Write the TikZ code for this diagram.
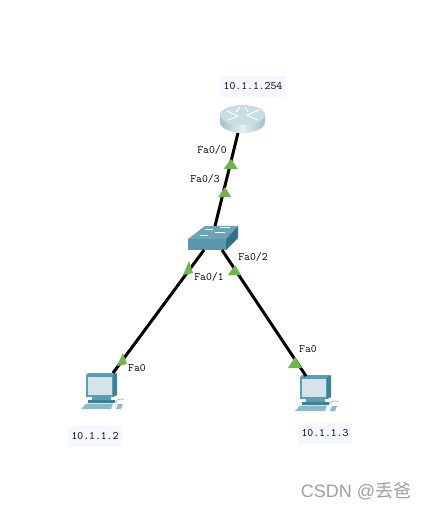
\documentclass[tikz,border=0pt]{standalone}
\usepackage{fontspec}
\newfontfamily\wmfont{Liberation Sans}
\newfontfamily\cjk{Noto Sans CJK SC}
\definecolor{linkgreen}{HTML}{6CB94A}
\definecolor{labelbg}{HTML}{F5F7FE}
\definecolor{pcdark}{HTML}{3E8197}
\definecolor{pcmid}{HTML}{5B9DB2}
\definecolor{pcscreen}{HTML}{D5E4EB}
\definecolor{pclight}{HTML}{8DB9CA}
\definecolor{swtop}{HTML}{6DA3B6}
\definecolor{swfront}{HTML}{5A97AE}
\definecolor{swside}{HTML}{2F7288}
\definecolor{rttop}{HTML}{C9DDE3}
\definecolor{rtside}{HTML}{9CC0CB}
\definecolor{rtmid}{HTML}{E6F0F3}
\tikzset{
	port/.style={font=\fontsize{11.4}{13}\ttfamily, inner sep=0pt},
	addr/.style={font=\fontsize{11.4}{13}\ttfamily, fill=labelbg, inner xsep=4pt, inner ysep=0pt, minimum height=21pt},
	link/.style={line width=3pt, black},
	pc/.pic={
		% Màn hình
		\fill[pcmid] (-16,-15) -- (11,-15) -- (11,7) -- (-16,7) -- cycle;
		\fill[pcdark] (11,-15) -- (15,-17) -- (15,5) -- (11,7) -- cycle;
		\fill[pcmid] (-16,-15) -- (-14,-17) -- (15,-17) -- (11,-15) -- cycle;
		\fill[pcscreen] (-14.5,-13.5) -- (10,-13.5) -- (10,5) -- (-14.5,5) -- cycle;
		% Chân đế
		\fill[pcmid] (-10,7) -- (9,7) -- (9,10) -- (-10,10) -- cycle;
		\fill[pcdark] (-14,10) -- (13,10) -- (13,13) -- (-14,13) -- cycle;
		% Bàn phím và chuột
		\fill[pclight] (-21,19) -- (-16,13.5) -- (11,13.5) -- (9,19) -- cycle;
		\fill[pclight] (14,19) -- (16,14) -- (21,14) -- (19,19) -- cycle;
		\draw[pclight, line width=0.7pt] (13,12) .. controls (15,9) and (20,8) .. (22,10);
	}
}
\begin{document}
\begin{tikzpicture}[x=1pt, y=-1pt]
	\useasboundingbox (0,0) rectangle (426,510);
	
	% Biểu tượng router
	\shade[left color=rtside, right color=rtside, middle color=rtmid] (220,115) -- (220,122) arc[start angle=180, end angle=0, x radius=22.5, y radius=11] -- (265,115) -- cycle;
	\fill[rttop] (242.5,115) ellipse[x radius=22.5, y radius=10];
	\draw[white, line width=1pt] (227,111) -- (238,116) (228,120) -- (238,116) (259,110) -- (247,115) (258,120) -- (247,115) (240,107) -- (236,112) (245,107) -- (248,112);
	
	% Biểu tượng switch
	\fill[swtop] (188,239) -- (205,226) -- (238,226) -- (226,239) -- cycle;
	\fill[swfront] (188,239) -- (226,239) -- (226,250) -- (188,250) -- cycle;
	\fill[swside] (226,239) -- (238,226) -- (238,238) -- (226,250) -- cycle;
	\draw[white, line width=0.8pt] (205,229) -- (213,229) (220,227.5) -- (230,227.5) (200,235) -- (208,235) (215,232) -- (225,232);
	
	% Các máy tính
	\pic at (102,390) {pc};
	\pic at (316,392) {pc};
	
	% Điểm nối
	\coordinate (routerS) at (238,133);
	\coordinate (switchN) at (215,226);
	\coordinate (switchSW) at (204,250);
	\coordinate (switchSE) at (222,250);
	\coordinate (pcA) at (113,373);
	\coordinate (pcB) at (306,376);
	
	% Các đường nối
	\draw[link] (routerS) -- (switchN);
	\draw[link] (switchSW) -- (pcA);
	\draw[link] (switchSE) -- (pcB);
	
	% Tam giác trạng thái
	\fill[linkgreen] (223.5,169) -- (231,159) -- (238,169) -- cycle;
	\fill[linkgreen] (218,197) -- (225,187) -- (231,197) -- cycle;
	\fill[linkgreen] (183,275) -- (189,261) -- (193,273) -- cycle;
	\fill[linkgreen] (228,275) -- (235,265) -- (241,275) -- cycle;
	\fill[linkgreen] (117,366) -- (123,353) -- (127,364) -- cycle;
	\fill[linkgreen] (288,368) -- (295,357) -- (302,368) -- cycle;
	
	% Nhãn cổng
	\node[port] (lblFaOO) at (212,150) {Fa0/0};
	\node[port] (lblFaOT) at (205,179) {Fa0/3};
	\node[port] (lblFaOA) at (209,277) {Fa0/1};
	\node[port] (lblFaOB) at (253,257) {Fa0/2};
	\node[port] (lblFaA) at (137,368) {Fa0};
	\node[port] (lblFaB) at (308,349) {Fa0};
	
	% Nhãn địa chỉ
	\node[addr] (addrRouter) at (253,86.5) {10.1.1.254};
	\node[addr] (addrA) at (95,436.5) {10.1.1.2};
	\node[addr] (addrB) at (325,433) {10.1.1.3};
	
	% Dấu CSDN
	\node[text=gray!75, font=\fontsize{18}{20}\selectfont\wmfont, inner sep=0pt] (mark) at (356,491) {CSDN @{\cjk 丢爸}};
\end{tikzpicture}
\end{document}
